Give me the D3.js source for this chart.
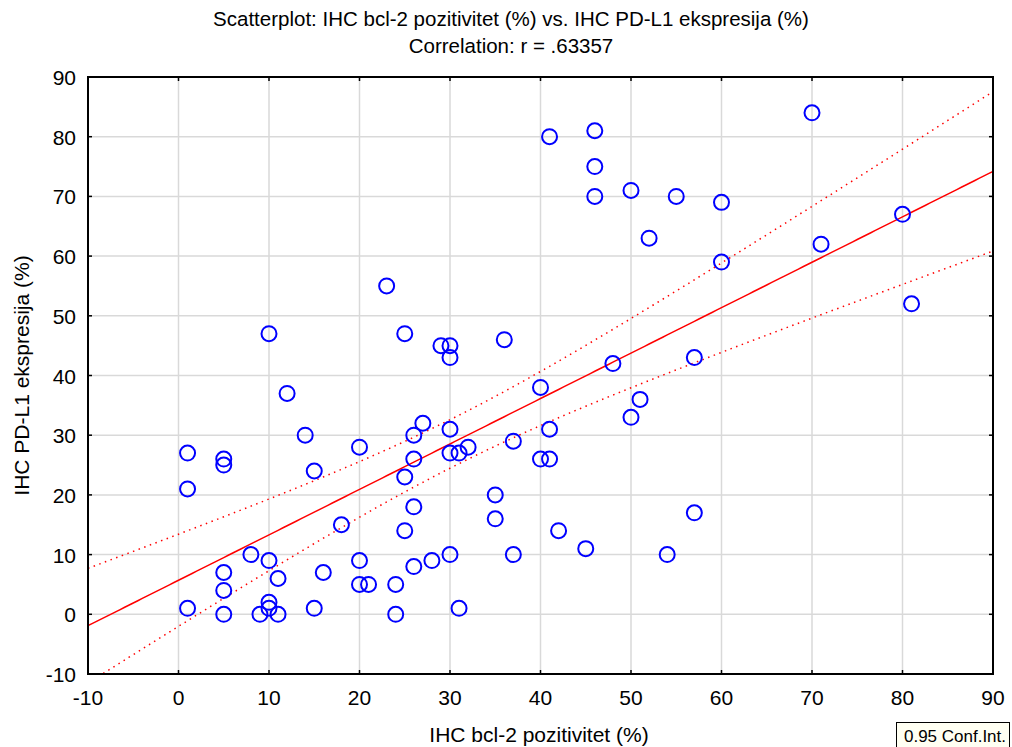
<!DOCTYPE html>
<html>
<head>
<meta charset="utf-8">
<script src="https://cdn.jsdelivr.net/npm/d3@7"></script>
<style>
  body { margin: 0; background: #fff; }
  text { font-family: "Liberation Sans", Arial, sans-serif; fill: #000; }
</style>
</head>
<body>
<script>
// values: bcl-2 (x) and PD-L1 (y)
var bcl2 = [70, 41, 46, 46, 46, 50, 55, 60, 52, 80, 71, 60, 81,
  23, 10, 25, 29, 30, 30, 36, 48, 57, 40, 12, 51, 50, 14, 27, 30, 41,
  26, 20, 32, 37, 30, 31, 40, 41, 26, 1, 5, 5, 1, 15, 25, 35, 26, 57,
  35, 18, 25, 42, 45, 8, 10, 20, 30, 37, 54, 28, 26, 5, 16, 11, 20,
  21, 24, 5, 10, 10, 1, 15, 31, 5, 9, 11, 24];
var pdl1 = [84, 80, 81, 75, 70, 71, 70, 69, 63, 67, 62, 59, 52,
  55, 47, 47, 45, 45, 43, 46, 42, 43, 38, 37, 36, 33, 30, 32, 31, 31,
  30, 28, 28, 29, 27, 27, 26, 26, 26, 27, 26, 25, 21, 24, 23, 20, 18, 17,
  16, 15, 14, 14, 11, 10, 9, 9, 10, 10, 10, 9, 8, 7, 7, 6, 5,
  5, 5, 4, 2, 1, 1, 1, 1, 0, 0, 0, 0];

// fitted line: y = 5.7 + 0.761 x
var fitIntercept = 5.7;
var fitSlope = 0.761;

var titleLines = ["Scatterplot: IHC bcl-2 pozitivitet (%) vs. IHC PD-L1 ekspresija (%)",
                  "Correlation: r = .63357"];
var xLabel = "IHC bcl-2 pozitivitet (%)";
var yLabel = "IHC PD-L1 ekspresija (%)";
var xTicks = [-10, 0, 10, 20, 30, 40, 50, 60, 70, 80, 90];
var yTicks = [-10, 0, 10, 20, 30, 40, 50, 60, 70, 80, 90];
var confLevel = 0.95;

var W = 1012, H = 747;
var margin = {top: 77, right: 19, bottom: 73, left: 88}
  , width = W - margin.left - margin.right
  , height = H - margin.top - margin.bottom;

var svg = d3.select("body").append("svg")
    .attr("width", W)
    .attr("height", H);

var x = d3.scaleLinear().domain([-10, 90]).range([0, width]);
var y = d3.scaleLinear().domain([-10, 90]).range([height, 0]);

var g = svg.append("g").attr("transform", "translate(" + margin.left + "," + margin.top + ")");

// grid
g.append("g").selectAll("line").data(xTicks).enter().append("line")
    .attr("x1", d => x(d)).attr("x2", d => x(d))
    .attr("y1", 0).attr("y2", height)
    .attr("stroke", "#d9d9d9").attr("stroke-width", 1.5);
g.append("g").selectAll("line").data(yTicks).enter().append("line")
    .attr("y1", d => y(d)).attr("y2", d => y(d))
    .attr("x1", 0).attr("x2", width)
    .attr("stroke", "#d9d9d9").attr("stroke-width", 1.5);

// regression + confidence band of the mean
var pts = bcl2.map((d, i) => [d, pdl1[i]]);
var n = pts.length;
var mx = d3.mean(bcl2);
var sxx = d3.sum(bcl2, d => (d - mx) * (d - mx));
var fit = d => fitIntercept + fitSlope * d;
var sse = d3.sum(pts, d => Math.pow(d[1] - fit(d[0]), 2));
var se = Math.sqrt(sse / (n - 2));
var tval = 1.992; // t(0.975, ~75 df)
var half = d => tval * se * Math.sqrt(1 / n + (d - mx) * (d - mx) / sxx);

var xs = d3.range(-10, 90.01, 0.5);

svg.append("defs").append("clipPath").attr("id", "clip")
  .append("rect").attr("width", width).attr("height", height);

var plot = g.append("g").attr("clip-path", "url(#clip)");
var line = d3.line().x(d => x(d[0])).y(d => y(d[1]));

plot.append("path")
    .attr("d", line(xs.map(d => [d, fit(d)])))
    .attr("fill", "none").attr("stroke", "#ff0000").attr("stroke-width", 1.5);
[1, -1].forEach(function(s) {
  plot.append("path")
      .attr("d", line(xs.map(d => [d, fit(d) + s * half(d)])))
      .attr("fill", "none").attr("stroke", "#ff0000").attr("stroke-width", 1.5)
      .attr("stroke-dasharray", "1.5,4.5");
});

// points
plot.selectAll(".pt").data(pts).enter().append("circle")
    .attr("class", "pt")
    .attr("cx", d => x(d[0]))
    .attr("cy", d => y(d[1]))
    .attr("r", 7.5)
    .attr("fill", "none")
    .attr("stroke", "#0000ff")
    .attr("stroke-width", 2);

// frame
g.append("rect").attr("width", width).attr("height", height)
    .attr("fill", "none").attr("stroke", "#000").attr("stroke-width", 2);

// inner tick marks on all four sides
var tk = 4;
g.append("g").selectAll("line").data(xTicks).enter().append("line")
    .attr("x1", d => x(d)).attr("x2", d => x(d)).attr("y1", height).attr("y2", height - tk)
    .attr("stroke", "#000").attr("stroke-width", 1.5);
g.append("g").selectAll("line").data(xTicks).enter().append("line")
    .attr("x1", d => x(d)).attr("x2", d => x(d)).attr("y1", 0).attr("y2", tk)
    .attr("stroke", "#000").attr("stroke-width", 1.5);
g.append("g").selectAll("line").data(yTicks).enter().append("line")
    .attr("y1", d => y(d)).attr("y2", d => y(d)).attr("x1", 0).attr("x2", tk)
    .attr("stroke", "#000").attr("stroke-width", 1.5);
g.append("g").selectAll("line").data(yTicks).enter().append("line")
    .attr("y1", d => y(d)).attr("y2", d => y(d)).attr("x1", width).attr("x2", width - tk)
    .attr("stroke", "#000").attr("stroke-width", 1.5);

// tick labels
g.append("g").selectAll("text").data(xTicks).enter().append("text")
    .attr("x", d => x(d)).attr("y", height + 31)
    .attr("text-anchor", "middle").style("font-size", "21px")
    .text(d => d);
g.append("g").selectAll("text").data(yTicks).enter().append("text")
    .attr("x", -12).attr("y", d => y(d) + 8)
    .attr("text-anchor", "end").style("font-size", "21px")
    .text(d => d);

// titles
svg.selectAll(".title").data(titleLines).enter().append("text")
    .attr("class", "title")
    .attr("x", 511).attr("y", (d, i) => 26 + i * 27)
    .attr("text-anchor", "middle").style("font-size", "20.5px")
    .text(d => d);

svg.append("text")
    .attr("x", 539).attr("y", 742)
    .attr("text-anchor", "middle").style("font-size", "21px")
    .text(xLabel);
svg.append("text")
    .attr("transform", "translate(29," + (margin.top + height / 2) + ") rotate(-90)")
    .attr("text-anchor", "middle").style("font-size", "21px")
    .text(yLabel);

// conf. int. tag
svg.append("rect")
    .attr("x", 896.5).attr("y", 722.5).attr("width", 113).attr("height", 26)
    .attr("fill", "#fffff2").attr("stroke", "#000").attr("stroke-width", 1);
svg.append("text")
    .attr("x", 955).attr("y", 742)
    .attr("text-anchor", "middle").style("font-size", "17px")
    .text(confLevel + " Conf.Int.");
</script>
</body>
</html>
